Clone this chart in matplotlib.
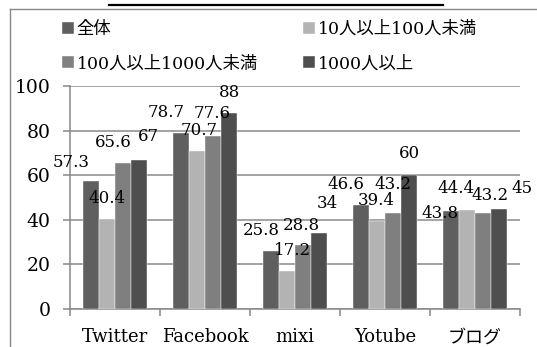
import matplotlib
matplotlib.use("Agg")
import matplotlib.pyplot as plt
import numpy as np
from matplotlib.lines import Line2D

plt.rcParams['font.family'] = ['DejaVu Serif', 'Noto Sans CJK JP']

categories = ["Twitter", "Facebook", "mixi", "Yotube", "ブログ"]
series_names = ["全体", "10人以上100人未満", "100人以上1000人未満", "1000人以上"]
s_all = [57.3, 78.7, 25.8, 46.6, 43.8]
s_10_100 = [40.4, 70.7, 17.2, 39.4, 44.4]
s_100_1000 = [65.6, 77.6, 28.8, 43.2, 43.2]
s_1000 = [67, 88, 34, 60, 45]
series = [s_all, s_10_100, s_100_1000, s_1000]
y_ticks = [0, 20, 40, 60, 80, 100]

# label placement offsets (positions, not data)
lab_dx = [[-0.22, -0.16, -0.11, -0.17, -0.12],
          [0.0, 0.02, 0.06, -0.01, -0.12],
          [-0.11, -0.01, -0.02, 0.0, 0.08],
          [0.10, 0.01, 0.09, 0.01, 0.25]]
lab_dy = [[8.3, 9.3, 9.5, 9.4, -1.0],
          [9.1, 9.3, 9.1, 9.3, 9.6],
          [9.0, 9.9, 8.7, 12.8, 7.7],
          [10.2, 9.0, 13.3, 9.6, 9.0]]

colors = ["#5f5f5f", "#b3b3b3", "#7f7f7f", "#4e4e4e"]
W, H = 537, 347
fig = plt.figure(figsize=(W / 100, H / 100), dpi=100)
ax = fig.add_axes([70 / W, 1 - 309 / H, (520 - 70) / W, (309 - 86) / H])

x = np.arange(len(categories))
bw = 0.178
bars = []
for j, vals in enumerate(series):
    pos = x + (j - 1.5) * bw
    b = ax.bar(pos, vals, width=bw, color=colors[j], edgecolor="white",
               linewidth=0.3, label=series_names[j], zorder=3)
    bars.append(b)
    for i, v in enumerate(vals):
        ax.text(pos[i] + lab_dx[j][i], v + lab_dy[j][i], f"{v:g}",
                ha="center", va="center", fontsize=12, color="black",
                clip_on=False, zorder=5)

ax.set_xlim(-0.5, len(categories) - 0.5)
ax.set_ylim(0, 100)
ax.set_yticks(y_ticks)
ax.set_yticklabels([str(t) for t in y_ticks], fontsize=13.5)
ax.set_xticks(np.arange(-0.5, len(categories), 1.0))
ax.set_xticklabels([])
ax.set_xticks(x, minor=True)
ax.set_xticklabels(categories, minor=True, fontsize=13)
ax.tick_params(axis="x", which="minor", length=0, pad=14)
ax.tick_params(axis="x", which="major", length=5, width=1.1, color="#888888", direction="out")
ax.tick_params(axis="y", length=5, width=1.1, color="#888888", pad=9)
ax.yaxis.grid(True, color="#8a8a8a", linewidth=1.1, zorder=0)
ax.set_axisbelow(True)
for s in ["top", "right"]:
    ax.spines[s].set_visible(False)
for s in ["left", "bottom"]:
    ax.spines[s].set_color("#888888")
    ax.spines[s].set_linewidth(1.1)

handles = [bars[0], bars[2], bars[1], bars[3]]
labels = [series_names[0], series_names[2], series_names[1], series_names[3]]
fig.legend(handles, labels, ncol=2, loc="upper left",
           bbox_to_anchor=(62 / W, 1 - 21 / H), frameon=False,
           prop={"family": ["DejaVu Serif", "Noto Sans CJK JP"], "size": 12.5},
           handlelength=0.7, handleheight=0.7, handletextpad=0.15,
           columnspacing=2.6, labelspacing=1.0, borderpad=0, borderaxespad=0)

# chart frame
fig.add_artist(Line2D([10 / W, 10 / W], [0, 1 - 8.5 / H], color="#888888", linewidth=1.0, transform=fig.transFigure))
fig.add_artist(Line2D([10 / W, 1], [1 - 8.5 / H, 1 - 8.5 / H], color="#888888", linewidth=1.0, transform=fig.transFigure))
# cut-off title underline
fig.add_artist(Line2D([109 / W, 443 / W], [1 - 4.5 / H, 1 - 4.5 / H], color="black", linewidth=1.6, transform=fig.transFigure))

fig.savefig("out.png", dpi=100)
